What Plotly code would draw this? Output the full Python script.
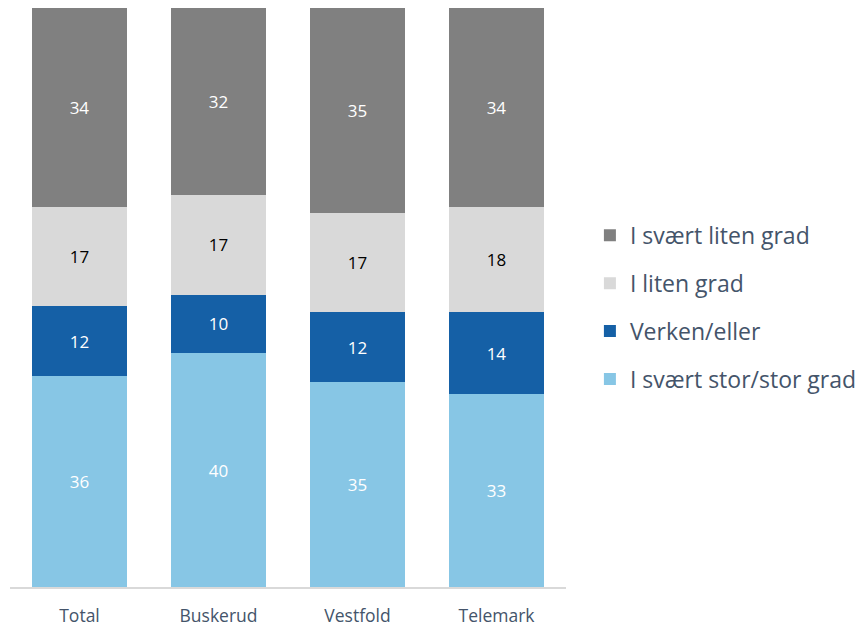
import plotly.graph_objects as go

categories = ["Total", "Buskerud", "Vestfold", "Telemark"]
series_names = ["I svært stor/stor grad", "Verken/eller", "I liten grad", "I svært liten grad"]
stor = [36, 40, 35, 33]
verken = [12, 10, 12, 14]
liten = [17, 17, 17, 18]
svaert_liten = [34, 32, 35, 34]

values = [stor, verken, liten, svaert_liten]
colors = ["#87C6E5", "#1560A6", "#D9D9D9", "#808080"]
text_colors = ["white", "white", "black", "white"]
ranks = [4, 3, 2, 1]

fig = go.Figure()
for name, vals, col, tc, rk in zip(series_names, values, colors, text_colors, ranks):
    fig.add_trace(go.Bar(
        x=categories, y=vals, name=name, legendgroup=name, legendrank=rk,
        marker=dict(color=col, line=dict(width=0)),
        text=[str(v) for v in vals], textposition="inside",
        insidetextanchor="middle",
        textfont=dict(color=tc, size=17, family="Open Sans"),
        hoverinfo="skip",
    ))

fig.update_layout(
    barmode="stack",
    bargap=0.317,
    width=855, height=619,
    margin=dict(l=2, r=297, t=0, b=40),
    paper_bgcolor="white", plot_bgcolor="white",
    font=dict(family="Open Sans", color="#44546A"),
    uniformtext=dict(mode="show", minsize=10),
    legend=dict(
        x=1.043, y=0.483, xanchor="left", yanchor="middle",
        traceorder="grouped", tracegroupgap=15,
        font=dict(size=23, color="#44546A", family="Open Sans"),
        itemwidth=30,
    ),
    xaxis=dict(
        showline=True, linecolor="#D9D9D9", linewidth=1.5,
        ticks="", tickfont=dict(size=17.5, color="#44546A"),
        ticklabelstandoff=12,
        showgrid=False,
    ),
    yaxis=dict(range=[0, 99], visible=False, showgrid=False),
)

fig.write_html("out.html")
